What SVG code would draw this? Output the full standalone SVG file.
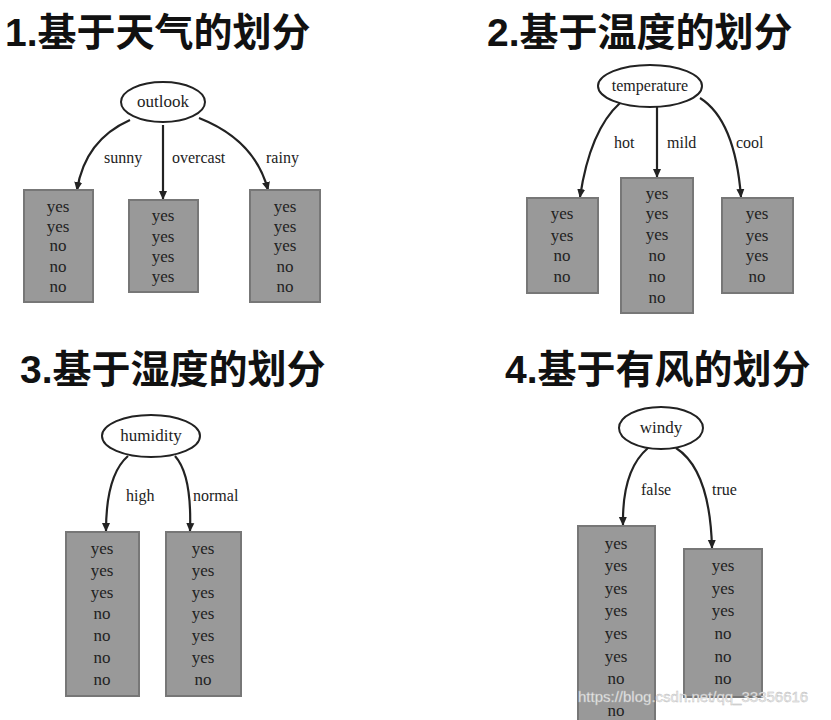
<svg xmlns="http://www.w3.org/2000/svg" width="831" height="720" viewBox="0 0 831 720">
<style>
.t{font-family:"Liberation Sans","Noto Sans CJK SC",sans-serif;font-weight:bold;font-size:39px;fill:#111}
.e{fill:#fff;stroke:#222;stroke-width:2}
.b{fill:#999;stroke:#777;stroke-width:2}
.s{font-family:"Liberation Serif",serif;font-size:17px;fill:#222;text-anchor:middle}
.l{font-family:"Liberation Serif",serif;font-size:16px;fill:#222}
.c{fill:none;stroke:#222;stroke-width:2.2;marker-end:url(#a)}
</style>
<defs><marker id="a" markerWidth="10" markerHeight="10" refX="8" refY="5" orient="auto" markerUnits="userSpaceOnUse"><path d="M0,1 L9,5 L0,9 z" fill="#222"/></marker></defs>
<rect width="831" height="720" fill="#fff"/>
<text class="t" x="5" y="46">1.基于天气的划分</text>
<text class="t" x="487" y="46">2.基于温度的划分</text>
<text class="t" x="20" y="383">3.基于湿度的划分</text>
<text class="t" x="505" y="383">4.基于有风的划分</text>
<g id="connectors">
<path class="c" d="M130,120 Q85,140 77,190"/>
<path class="c" d="M163,125 L163,199"/>
<path class="c" d="M199,118 Q255,140 268,190"/>
<path class="c" d="M620,103 Q590,130 580,197"/>
<path class="c" d="M657,107 L657,177"/>
<path class="c" d="M700,98 Q735,120 741,197"/>
<path class="c" d="M128,456 Q106,475 106,531"/>
<path class="c" d="M175,456 Q192,475 190,531"/>
<path class="c" d="M648,448 Q622,470 623,525"/>
<path class="c" d="M676,448 Q710,470 712,548"/>
</g>
<g>
<text class="l" x="104" y="163">sunny</text><text class="l" x="172" y="163">overcast</text><text class="l" x="266" y="163">rainy</text>
<text class="l" x="614" y="148">hot</text><text class="l" x="667" y="148">mild</text><text class="l" x="736" y="148">cool</text>
<text class="l" x="126" y="501">high</text><text class="l" x="193" y="501">normal</text>
<text class="l" x="641" y="495">false</text><text class="l" x="712" y="495">true</text>
</g>
<g id="outlook"><ellipse class="e" cx="163" cy="102" rx="42" ry="20"/><text class="s" x="163" y="107">outlook</text></g>
<g id="sunny"><rect class="b" x="24" y="190" width="69" height="112"/><text class="s"><tspan x="58" y="212">yes</tspan><tspan x="58" y="232">yes</tspan><tspan x="58" y="251">no</tspan><tspan x="58" y="272">no</tspan><tspan x="58" y="292">no</tspan></text></g>
<g id="overcast"><rect class="b" x="129" y="200" width="69" height="92"/><text class="s"><tspan x="163" y="221">yes</tspan><tspan x="163" y="242">yes</tspan><tspan x="163" y="262">yes</tspan><tspan x="163" y="282">yes</tspan></text></g>
<g id="rainy"><rect class="b" x="250" y="190" width="70" height="112"/><text class="s"><tspan x="285" y="212">yes</tspan><tspan x="285" y="232">yes</tspan><tspan x="285" y="251">yes</tspan><tspan x="285" y="272">no</tspan><tspan x="285" y="292">no</tspan></text></g>
<g id="temperature"><ellipse class="e" cx="650" cy="86" rx="52" ry="21"/><text class="s" x="650" y="91" style="font-size:16px">temperature</text></g>
<g id="hot"><rect class="b" x="527" y="198" width="71" height="95"/><text class="s"><tspan x="562" y="219">yes</tspan><tspan x="562" y="241">yes</tspan><tspan x="562" y="261">no</tspan><tspan x="562" y="282">no</tspan></text></g>
<g id="mild"><rect class="b" x="621" y="178" width="72" height="135"/><text class="s"><tspan x="657" y="199">yes</tspan><tspan x="657" y="219">yes</tspan><tspan x="657" y="240">yes</tspan><tspan x="657" y="261">no</tspan><tspan x="657" y="282">no</tspan><tspan x="657" y="303">no</tspan></text></g>
<g id="cool"><rect class="b" x="722" y="198" width="71" height="95"/><text class="s"><tspan x="757" y="219">yes</tspan><tspan x="757" y="241">yes</tspan><tspan x="757" y="261">yes</tspan><tspan x="757" y="282">no</tspan></text></g>
<g id="humidity"><ellipse class="e" cx="151" cy="436" rx="49" ry="21"/><text class="s" x="151" y="441">humidity</text></g>
<g id="high"><rect class="b" x="66" y="532" width="73" height="164"/><text class="s"><tspan x="102" y="554">yes</tspan><tspan x="102" y="576">yes</tspan><tspan x="102" y="598">yes</tspan><tspan x="102" y="619">no</tspan><tspan x="102" y="641">no</tspan><tspan x="102" y="663">no</tspan><tspan x="102" y="685">no</tspan></text></g>
<g id="normal"><rect class="b" x="166" y="532" width="75" height="164"/><text class="s"><tspan x="203" y="554">yes</tspan><tspan x="203" y="576">yes</tspan><tspan x="203" y="598">yes</tspan><tspan x="203" y="619">yes</tspan><tspan x="203" y="641">yes</tspan><tspan x="203" y="663">yes</tspan><tspan x="203" y="685">no</tspan></text></g>
<g id="windy"><ellipse class="e" cx="661" cy="428" rx="42" ry="21"/><text class="s" x="661" y="433">windy</text></g>
<g id="false"><rect class="b" x="578" y="526" width="77" height="196"/><text class="s"><tspan x="616" y="549">yes</tspan><tspan x="616" y="571">yes</tspan><tspan x="616" y="594">yes</tspan><tspan x="616" y="616">yes</tspan><tspan x="616" y="639">yes</tspan><tspan x="616" y="662">yes</tspan><tspan x="616" y="684">no</tspan><tspan x="616" y="716">no</tspan></text></g>
<g id="true"><rect class="b" x="684" y="549" width="78" height="148"/><text class="s"><tspan x="723" y="571">yes</tspan><tspan x="723" y="594">yes</tspan><tspan x="723" y="616">yes</tspan><tspan x="723" y="639">no</tspan><tspan x="723" y="662">no</tspan><tspan x="723" y="684">no</tspan></text></g>
<text x="578" y="702" font-family="Liberation Sans,sans-serif" font-size="15" fill="#eee" stroke="#bbb" stroke-width="0.4">https://blog.csdn.net/qq_33356616</text>
</svg>
